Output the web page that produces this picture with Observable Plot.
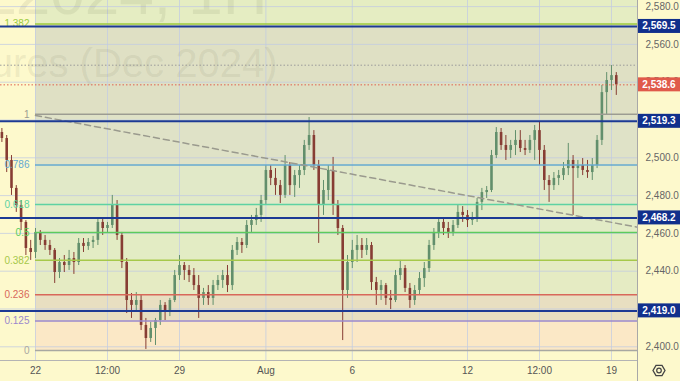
<!DOCTYPE html>
<html><head><meta charset="utf-8">
<script src="https://cdn.jsdelivr.net/npm/d3@7"></script>
<script src="https://cdn.jsdelivr.net/npm/@observablehq/plot@0.6"></script>
<style>html,body{margin:0;padding:0;background:#fdf9cc;overflow:hidden}</style>
</head><body><div id="chart"></div>
<script>
// ---- data (4-hour-ish bars; bar index 0 = Jul 22, 6 bars per trading day) ----
const firstIndex = -7;
const opens = [2513.4,2510.2,2498.6,2483.8,2474.8,2465.8,2452.0,
2449.9,2460.5,2456.3,2453.6,2451.0,2439.3,2444.6,2443.0,2446.7,2444.6,
2454.7,2453.1,2455.2,2456.3,2465.8,2462.6,2464.2,2474.8,2458.9,2444.6,
2424.5,2421.9,2424.5,2411.3,2404.4,2409.7,2413.9,2421.9,2418.2,2424.5,
2437.7,2443.0,2440.4,2437.7,2432.4,2425.6,2428.7,2425.6,2432.4,2435.1,
2437.7,2432.4,2451.0,2455.2,2453.6,2464.2,2466.8,2469.5,2477.4,2493.3,
2489.1,2485.3,2480.1,2495.9,2485.3,2490.6,2493.3,2506.5,2511.8,2495.9,
2474.8,2482.7,2493.3,2474.8,2462.6,2429.8,2444.6,2451.0,2453.6,2451.0,
2453.6,2434.0,2429.8,2432.4,2425.6,2424.5,2437.7,2441.4,2430.9,2424.5,
2429.8,2436.1,2441.4,2453.6,2460.5,2465.8,2462.6,2460.5,2464.2,2471.1,
2469.5,2466.8,2467.9,2476.4,2481.6,2482.7,2501.2,2513.4,2506.5,2503.9,
2506.5,2509.2,2504.9,2503.9,2509.2,2514.4,2503.9,2488.0,2485.3,2489.1,
2490.6,2494.3,2498.6,2494.3,2495.9,2493.3,2492.2,2495.9,2509.2,2534.5,
2540.9,2543.5];
const highs = [2515.5,2511.8,2501.2,2485.3,2477.4,2466.8,2456.3,
2462.6,2461.5,2458.9,2456.3,2452.0,2446.7,2448.3,2451.0,2449.9,2457.3,
2457.3,2457.3,2458.4,2467.9,2467.9,2465.8,2480.1,2477.4,2460.5,2446.7,
2428.2,2428.7,2427.2,2415.0,2412.9,2415.0,2424.5,2423.4,2425.6,2440.4,
2448.3,2444.6,2443.0,2441.4,2437.7,2430.9,2432.4,2435.1,2437.7,2440.4,
2443.0,2453.6,2457.8,2457.3,2466.8,2469.5,2473.2,2480.1,2495.9,2495.9,
2494.3,2488.0,2501.2,2497.5,2493.3,2495.9,2509.2,2521.3,2514.4,2498.6,
2488.0,2495.9,2500.2,2477.4,2464.2,2448.3,2456.3,2458.9,2457.3,2457.3,
2455.2,2436.7,2435.1,2433.5,2429.8,2440.4,2445.7,2443.0,2433.5,2432.4,
2439.3,2444.6,2456.3,2462.6,2467.9,2467.9,2465.8,2466.8,2474.8,2474.2,
2472.1,2471.1,2478.5,2483.8,2484.8,2503.9,2516.0,2515.5,2511.8,2509.2,
2514.4,2514.4,2509.2,2511.8,2517.1,2518.7,2506.5,2490.6,2492.2,2493.3,
2497.5,2507.6,2501.2,2498.6,2499.6,2498.6,2499.6,2511.8,2538.3,2545.1,
2548.8,2545.1];
const lows = [2508.1,2492.2,2480.1,2471.1,2461.5,2448.3,2445.7,
2446.7,2453.6,2451.0,2448.3,2433.5,2436.1,2439.3,2440.4,2438.3,2443.0,
2449.9,2451.0,2452.0,2453.6,2458.9,2460.0,2462.6,2456.3,2441.4,2417.6,
2415.0,2418.2,2408.6,2398.6,2402.3,2400.7,2411.3,2413.9,2416.0,2423.4,
2435.1,2435.1,2434.0,2429.8,2415.0,2421.9,2421.9,2421.9,2429.8,2430.9,
2428.7,2429.8,2448.3,2449.4,2452.0,2460.5,2464.2,2465.8,2474.8,2485.3,
2480.1,2475.8,2478.5,2480.1,2479.0,2483.8,2490.6,2503.9,2493.3,2454.7,
2469.5,2477.4,2469.5,2458.9,2403.3,2425.6,2441.4,2444.6,2446.7,2448.3,
2429.8,2421.9,2424.5,2421.9,2419.7,2423.4,2435.1,2428.7,2420.3,2421.9,
2427.2,2431.4,2439.3,2451.0,2457.3,2458.9,2457.3,2458.4,2462.6,2465.8,
2463.1,2464.2,2465.8,2472.1,2478.5,2481.6,2499.6,2503.9,2498.6,2499.6,
2501.2,2502.8,2501.2,2502.3,2498.6,2495.9,2482.7,2476.4,2482.7,2485.3,
2488.0,2490.6,2469.5,2489.1,2490.6,2489.1,2488.0,2494.3,2506.5,2522.4,
2535.6,2533.0];
const closes = [2510.2,2498.6,2483.8,2474.8,2465.8,2452.0,2449.9,
2460.5,2456.3,2453.6,2451.0,2439.3,2444.6,2443.0,2446.7,2444.6,2454.7,
2453.1,2455.2,2456.3,2465.8,2462.6,2464.2,2474.8,2458.9,2444.6,2424.5,
2421.9,2424.5,2411.3,2404.4,2409.7,2413.9,2421.9,2418.2,2424.5,2437.7,
2443.0,2440.4,2437.7,2432.4,2425.6,2428.7,2425.6,2432.4,2435.1,2437.7,
2432.4,2451.0,2455.2,2453.6,2464.2,2466.8,2469.5,2477.4,2493.3,2489.1,
2485.3,2480.1,2495.9,2485.3,2490.6,2493.3,2506.5,2511.8,2495.9,2474.8,
2482.7,2493.3,2474.8,2462.6,2429.8,2444.6,2451.0,2453.6,2451.0,2453.6,
2434.0,2429.8,2432.4,2425.6,2424.5,2437.7,2441.4,2430.9,2424.5,2429.8,
2436.1,2441.4,2453.6,2460.5,2465.8,2462.6,2460.5,2464.2,2471.1,2469.5,
2466.8,2467.9,2476.4,2481.6,2482.7,2501.2,2513.4,2506.5,2503.9,2506.5,
2509.2,2504.9,2503.9,2509.2,2514.4,2503.9,2488.0,2485.3,2489.1,2490.6,
2494.3,2498.6,2494.3,2495.9,2493.3,2492.2,2495.9,2509.2,2534.5,2540.9,
2543.5,2538.6];

// x-axis ticks (bar index) and labels
const xTickPos = [0, 15, 30, 48, 66, 90, 105, 120];
const xTickLabels = ["22", "12:00", "29", "Aug", "6", "12", "12:00", "19"];
// price-axis ticks
const priceTicks = [2400, 2420, 2440, 2460, 2480, 2500, 2520, 2540, 2560, 2580];

// Fibonacci retracement (anchors)
const fibStart = 0;        // bar index where the drawing starts
const fibZero = 2398.0;
const fibOne = 2523.0;
const fibLevels = [0, 0.125, 0.236, 0.382, 0.5, 0.618, 0.786, 1, 1.382, 1.618];
const fibLabels = ["0", "0.125", "0.236", "0.382", "0.5", "0.618", "0.786", "1", "1.382", ""];
const fibColors = ["#a8a8a2", "#9a88cc", "#d8685a", "#a6c84a", "#5ccb5c", "#5ed2a2", "#64a8d0", "#9c9c92", "#9ccb3c", "#9ccb3c"];
const fibZoneColors = ["#fbe8c6", "#e8dfc1", "#e5ebc3", "#e3ecc4", "#e2ebc6", "#e1e9c8", "#dfe2c7", "#dfe0c4", "#e5edc2"];

// horizontal levels drawn by hand
const keyLevels = [2569.5, 2519.3, 2468.2, 2419.0];
const lastPrice = 2538.6;
const recentHigh = 2549.0;
// dashed trend line
const trendIdx = [0, 125.4];
const trendPrice = [2522.4, 2463.3];

// ---- build ----
const X0 = -7.29, X1 = 125.42, Y0 = 2392.75, Y1 = 2583.23;
const bars = opens.map((o, k) => ({i: firstIndex + k, o, h: highs[k], l: lows[k], c: closes[k]}));
const fibPrice = l => fibZero + l * (fibOne - fibZero);
const fib = fibLevels.map((l, k) => ({p: fibPrice(l), label: fibLabels[k], color: fibColors[k]}));
const zones = fibZoneColors.map((c, k) => ({lo: fib[k].p, hi: fib[k + 1].p, color: c}));
const trend = trendIdx.map((x, k) => ({x, y: trendPrice[k]}));
const UP = "#628f6c", DOWN = "#873d34";
const candleColor = d => d.c >= d.o ? UP : DOWN;
const font = "'Liberation Sans', Arial, sans-serif";

const chart = Plot.plot({
  width: 680, height: 381,
  marginLeft: 0, marginRight: 43, marginTop: 0, marginBottom: 21,
  style: {background: "#fdf9cc", fontFamily: font, fontSize: "10px"},
  x: {domain: [X0, X1], axis: null},
  y: {domain: [Y0, Y1], axis: null},
  marks: [
    Plot.rect(zones, {x1: d => fibStart, x2: d => X1, y1: "lo", y2: "hi", fill: "color"}),
    Plot.gridY(priceTicks, {stroke: "#c2cbe2", strokeOpacity: 0.75}),
    Plot.gridX(xTickPos, {stroke: "#c2cbe2", strokeOpacity: 0.75}),
    Plot.text(["GCZ2024, 1H"], {text: d => d, frameAnchor: "top-left", lineAnchor: "bottom", dx: 267, dy: 13, textAnchor: "end", fontSize: 62, fontFamily: font, fill: "#6e6e55", fillOpacity: 0.11}),
    Plot.text(["Gold Futures (Dec 2024)"], {text: d => d, frameAnchor: "top-left", lineAnchor: "bottom", dx: 277, dy: 76, textAnchor: "end", fontSize: 40, fontFamily: font, fill: "#6e6e55", fillOpacity: 0.11}),
    Plot.ruleX(bars, {x: "i", y1: "l", y2: "h", stroke: candleColor, strokeWidth: 1}),
    Plot.ruleX(bars, {x: "i", y1: "o", y2: "c", stroke: candleColor, strokeWidth: 2.6}),
    Plot.ruleY(fib.filter(d => d.label !== ""), {y: "p", x1: d => fibStart, x2: d => X1, stroke: "color", strokeWidth: 1.5}),
    Plot.text(fib.filter(d => d.label !== ""), {x: d => fibStart, y: "p", text: "label", fill: "color", textAnchor: "end", dx: -6, fontSize: 10}),
    Plot.line(trend, {x: "x", y: "y", stroke: "#9a9a8e", strokeWidth: 1.5, strokeDasharray: "6,4"}),
    Plot.ruleY([recentHigh], {stroke: "#9a9a9a", strokeDasharray: "1.5,2"}),
    Plot.ruleY([lastPrice], {stroke: "#e0604e", strokeDasharray: "1.5,2"}),
    Plot.ruleY(keyLevels, {stroke: "#1c3a94", strokeWidth: 2}),
    Plot.ruleX([X1], {stroke: "#a8a8a8"}),
    Plot.ruleY([Y0], {stroke: "#b4b4b4"}),
    Plot.axisY(priceTicks, {anchor: "right", tickSize: 0, tickPadding: 8, tickFormat: d3.format(",.1f"), fill: "#666", fontSize: 10}),
    Plot.axisX(xTickPos, {anchor: "bottom", tickSize: 0, tickPadding: 6, tickFormat: d => xTickLabels[xTickPos.indexOf(d)], fill: "#555", fontSize: 10})
  ]
});
document.getElementById("chart").appendChild(chart);

// price tags on the right axis
const svg = d3.select(chart);
const ys = chart.scale("y"), xs = chart.scale("x");
const xr = xs.apply(X1);
const tags = keyLevels.map(v => ({v, fill: "#11308c"})).concat([{v: lastPrice, fill: "#e05a4a"}]);
const g = svg.append("g");
tags.forEach(t => {
  const py = ys.apply(t.v);
  g.append("rect").attr("x", xr + 1).attr("y", py - 7).attr("width", 680 - xr - 1).attr("height", 14).attr("fill", t.fill);
  g.append("text").attr("x", xr + 22).attr("y", py).attr("dy", "0.35em").attr("text-anchor", "middle")
    .attr("fill", "#fff").attr("font-weight", "bold").attr("font-size", 10).attr("font-family", font)
    .text(d3.format(",.1f")(t.v));
});
// frame continuation into the time-axis strip and settings icon
svg.append("line").attr("x1", xr + 0.5).attr("x2", xr + 0.5).attr("y1", ys.apply(Y0)).attr("y2", 381).attr("stroke", "#a8a8a8");
const cx = xr + 22, cy = (ys.apply(Y0) + 381) / 2;
const hex = d3.range(6).map(k => [cx + 6 * Math.cos(Math.PI / 3 * k), cy + 6 * Math.sin(Math.PI / 3 * k)]);
svg.append("path").attr("d", "M" + hex.join("L") + "Z").attr("fill", "none").attr("stroke", "#444").attr("stroke-width", 1.3);
svg.append("circle").attr("cx", cx).attr("cy", cy).attr("r", 2.3).attr("fill", "none").attr("stroke", "#444").attr("stroke-width", 1.2);
</script>
</body></html>
